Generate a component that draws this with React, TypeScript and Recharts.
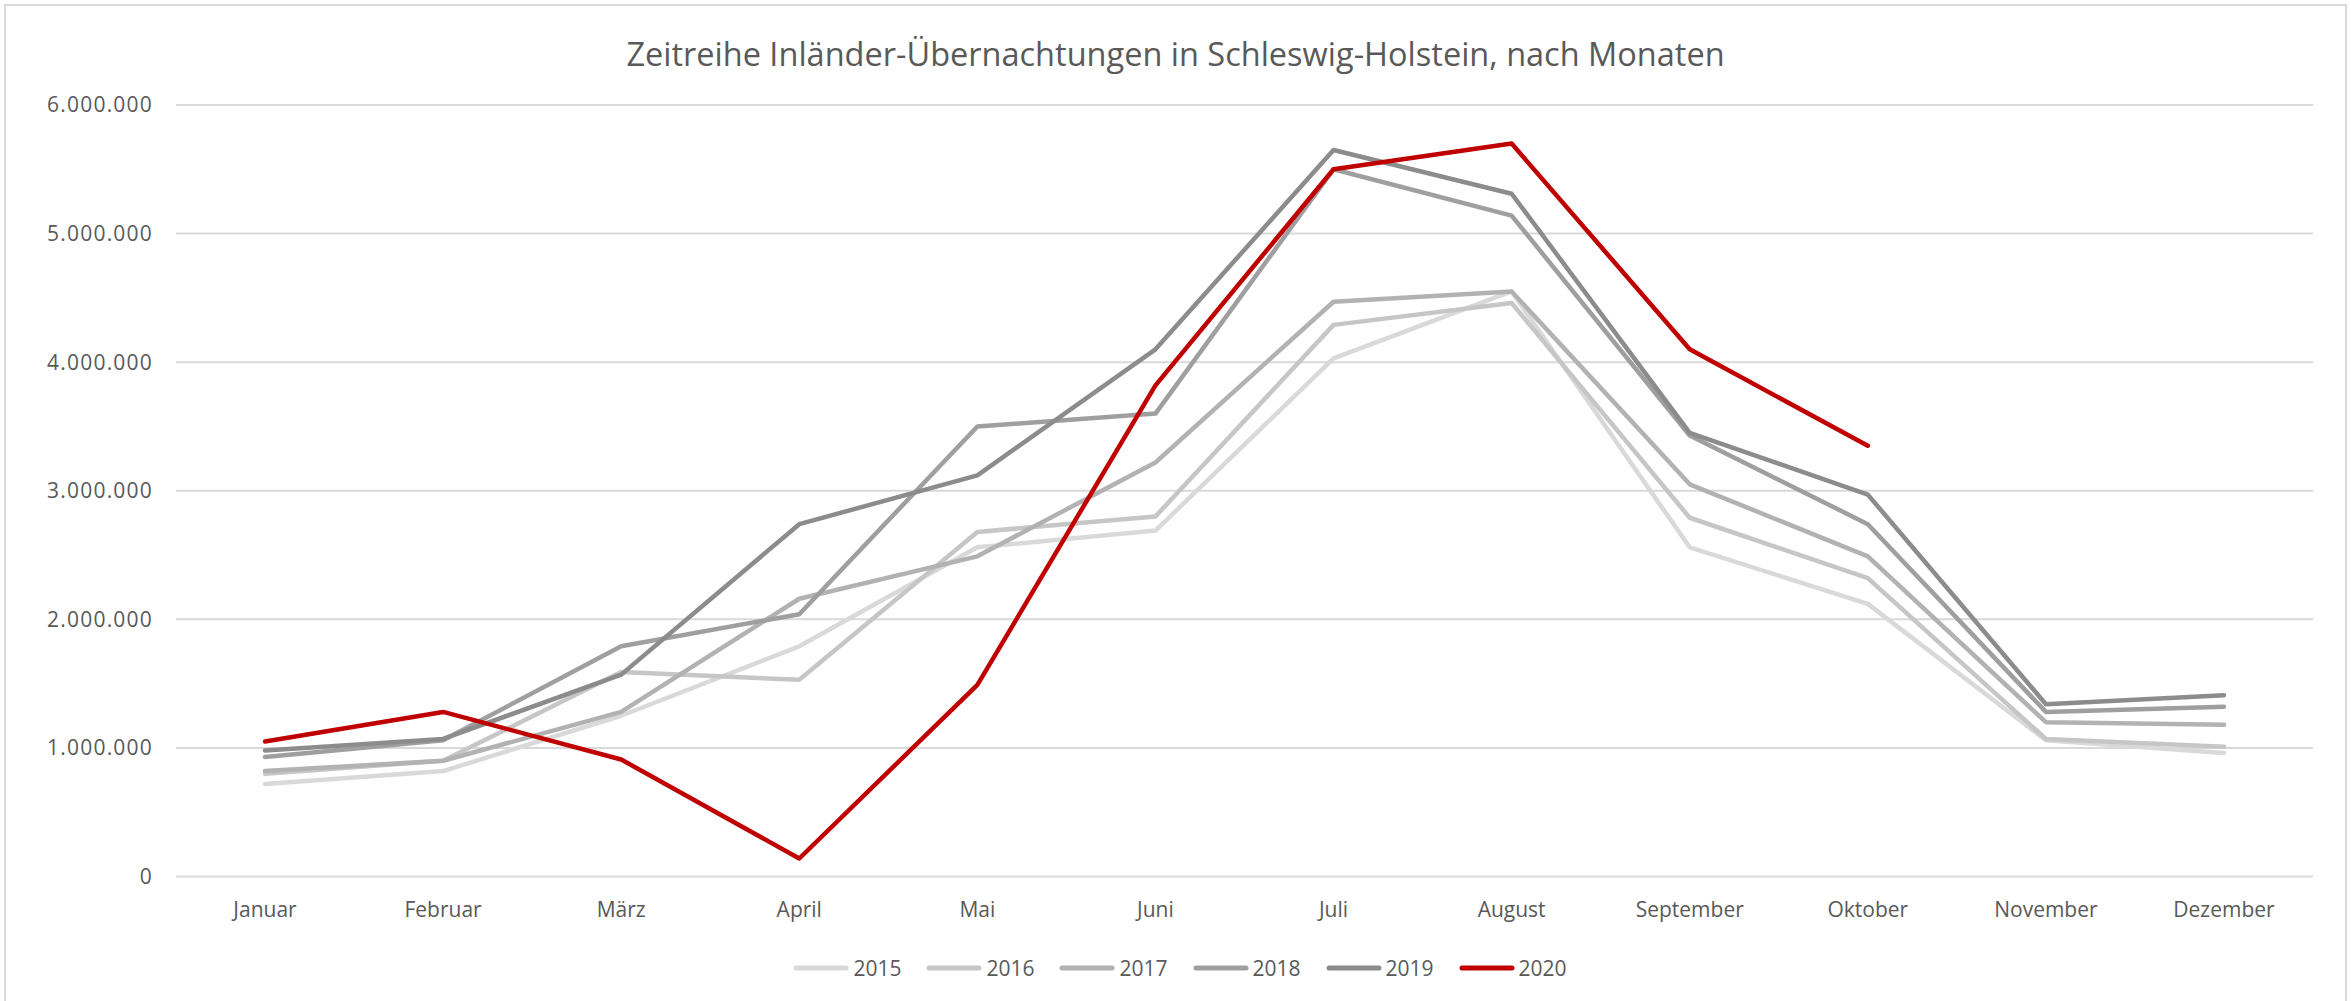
import { LineChart, Line, XAxis, YAxis, CartesianGrid, Legend } from 'recharts';

const months = ['Januar', 'Februar', 'März', 'April', 'Mai', 'Juni', 'Juli', 'August', 'September', 'Oktober', 'November', 'Dezember'];

// Übernachtungen je Monat
const y2015 = [720000, 820000, 1250000, 1790000, 2560000, 2690000, 4030000, 4550000, 2560000, 2120000, 1060000, 960000];
const y2016 = [800000, 900000, 1590000, 1530000, 2680000, 2800000, 4290000, 4460000, 2790000, 2320000, 1070000, 1010000];
const y2017 = [820000, 900000, 1280000, 2160000, 2490000, 3220000, 4470000, 4550000, 3050000, 2490000, 1200000, 1180000];
const y2018 = [930000, 1060000, 1790000, 2040000, 3500000, 3600000, 5500000, 5140000, 3430000, 2740000, 1280000, 1320000];
const y2019 = [980000, 1070000, 1570000, 2740000, 3120000, 4100000, 5650000, 5310000, 3450000, 2970000, 1340000, 1410000];
const y2020 = [1050000, 1280000, 910000, 140000, 1490000, 3820000, 5500000, 5700000, 4100000, 3350000, null, null];

const yTicks = [0, 1000000, 2000000, 3000000, 4000000, 5000000, 6000000];

const series = [
  { key: '2015', values: y2015, color: '#d9d9d9' },
  { key: '2016', values: y2016, color: '#c6c6c6' },
  { key: '2017', values: y2017, color: '#b2b2b2' },
  { key: '2018', values: y2018, color: '#9f9f9f' },
  { key: '2019', values: y2019, color: '#8c8c8c' },
  { key: '2020', values: y2020, color: '#c00000' },
];

const data = months.map((month, i) => {
  const row: Record<string, string | number | null> = { month };
  series.forEach(s => { row[s.key] = s.values[i]; });
  return row;
});

const fmt = (v: number) => String(v).replace(/\B(?=(\d{3})+(?!\d))/g, '.');

const font = '"Open Sans", sans-serif';

function LegendContent() {
  return (
    <div style={{ display: 'flex', justifyContent: 'center', height: 30, alignItems: 'center', paddingLeft: 9, fontFamily: font, fontSize: 21, color: '#595959' }}>
      {series.map((s, i) => (
        <div key={s.key} style={{ display: 'flex', alignItems: 'center', marginRight: i < series.length - 1 ? 25 : 0 }}>
          <svg width={56} height={10} style={{ marginRight: 4 }}>
            <line x1={3} y1={5} x2={53} y2={5} stroke={s.color} strokeWidth={5} strokeLinecap="round" />
          </svg>
          <span>{s.key}</span>
        </div>
      ))}
    </div>
  );
}

export default function App() {
  return (
    <div style={{ position: 'absolute', left: 0, top: 0, width: 2351, height: 1001, background: '#fff', overflow: 'hidden' }}>
      <div style={{ position: 'absolute', left: 4, top: 4, width: 2339, height: 1010, border: '2px solid #d9d9d9' }} />
      <div style={{ position: 'absolute', left: 0, top: 31, width: 2351, textAlign: 'center', fontFamily: font, fontSize: 32.5, color: '#595959' }}>
        Zeitreihe Inländer-Übernachtungen in Schleswig-Holstein, nach Monaten
      </div>
      <div style={{ position: 'absolute', left: 0, top: 0 }}>
        <LineChart width={2351} height={1001} data={data} margin={{ top: 105, right: 38, bottom: 64.5, left: 0 }}>
          <CartesianGrid vertical={false} stroke="#d9d9d9" strokeWidth={2} />
          <XAxis
            dataKey="month"
            axisLine={false}
            tickLine={false}
            tickSize={0}
            tickMargin={26}
            padding={{ left: 89, right: 89 }}
            tick={{ fill: '#595959', fontSize: 21, fontFamily: font }}
            interval={0}
          />
          <YAxis
            width={176}
            domain={[0, 6000000]}
            ticks={yTicks}
            tickFormatter={fmt}
            axisLine={false}
            tickLine={false}
            tickSize={0}
            tickMargin={23}
            tick={{ fill: '#595959', fontSize: 21, fontFamily: font, letterSpacing: 1.2 }}
          />
          <Legend verticalAlign="bottom" content={<LegendContent />} wrapperStyle={{ top: 953, bottom: 'auto', left: 0, width: 2351 }} />
          {series.map(s => (
            <Line
              key={s.key}
              type="linear"
              dataKey={s.key}
              stroke={s.color}
              strokeWidth={4.5}
              dot={false}
              activeDot={false}
              strokeLinecap="round"
              strokeLinejoin="round"
              isAnimationActive={false}
            />
          ))}
        </LineChart>
      </div>
    </div>
  );
}
